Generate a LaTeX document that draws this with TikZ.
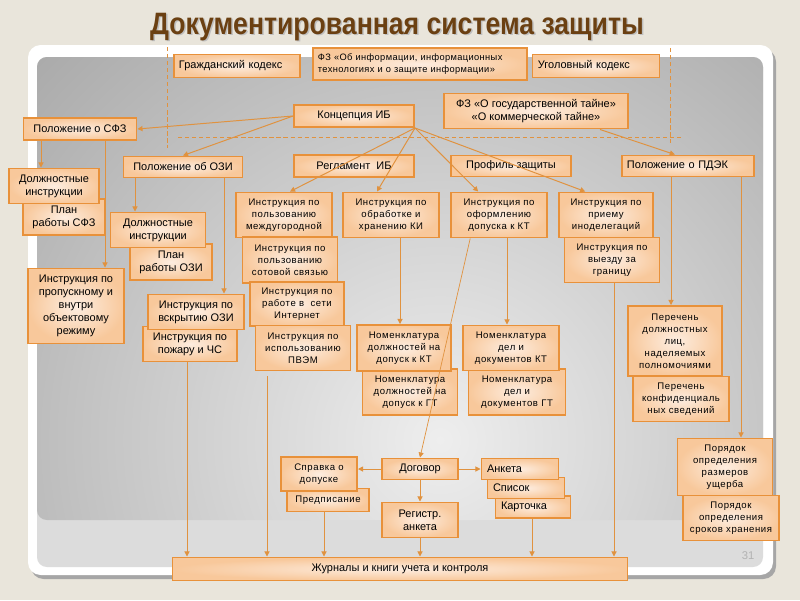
\documentclass[tikz,border=0pt]{standalone}
\usepackage{fontspec}
\setmainfont{Liberation Sans}
\usepackage{xcolor}
\usetikzlibrary{arrows.meta,positioning,calc}

\definecolor{pagebg}{HTML}{E9E5DB}
\definecolor{panelband}{HTML}{DCDCDC}
\definecolor{panelin}{HTML}{EEEEEE}
\definecolor{panelout}{HTML}{AAAAAA}
\definecolor{boxline}{HTML}{E8913A}
\definecolor{boxin}{HTML}{FDEDE0}
\definecolor{boxout}{HTML}{F8C89B}
\definecolor{lineor}{HTML}{E0923F}
\definecolor{titlecol}{HTML}{6B4012}

\begin{document}
\begin{tikzpicture}[
    x=0.025cm, y=-0.025cm,
    doc/.style={draw=boxline, line width=1.4pt, inner color=boxin, outer color=boxout,
        align=center, inner sep=2pt, font=\fontsize{7.8}{9.2}\selectfont},
    small/.style={doc, font=\fontsize{6.8}{8.6}\selectfont\addfontfeature{LetterSpace=6}},
    sz/.style 2 args={minimum width=#1*0.025cm, minimum height=#2*0.025cm},
    edge/.style={draw=lineor, line width=0.7pt, -{Triangle[length=3.6pt,width=3.6pt]}},
    guide/.style={draw=lineor, line width=0.7pt, dash pattern=on 3pt off 2pt}
]
    \useasboundingbox (0,0) rectangle (800,600);

    % slide background
    \fill[pagebg] (0,0) rectangle (800,600);
    \fill[black!35, rounded corners=9pt] (31,49) rectangle (776,579);
    \fill[white, rounded corners=9pt] (28,45) rectangle (773,575);
    \fill[panelband, rounded corners=7pt] (37,57) rectangle (763,567);
    \begin{scope}
        \clip[rounded corners=7pt] (37,57) rectangle (763,520);
        \shade[inner color=panelin, outer color=panelout] (440,440) circle (560);
    \end{scope}

    \node[text=black!25, font=\fontsize{22}{24}\selectfont\bfseries\addfontfeature{FakeStretch=0.86}]
        at (398.5,28.5) {Документированная система защиты};
    \node[text=titlecol, font=\fontsize{22}{24}\selectfont\bfseries\addfontfeature{FakeStretch=0.86}]
        (title) at (397,27) {Документированная система защиты};
    \node[font=\fontsize{8}{9}\selectfont, text=black!30] (pagenum) at (748,556) {31};

    % dashed frame of the laws
    \draw[guide] (167,47) -- (167,148);
    \draw[guide] (670,48) -- (670,143);
    \draw[guide] (178,137) -- (684,137);

    % laws
    \node[doc, sz={126}{23}, text width=2.9cm, align=left] (civil) at (237,66) {Гражданский кодекс};
    \node[small, sz={214}{32}, text width=5.1cm, align=left,
        font=\fontsize{6.6}{8.4}\selectfont\addfontfeature{LetterSpace=4}] (fzinfo) at (420,64)
        {ФЗ «Об информации, информационных\\технологиях и о защите информации»};
    \node[doc, sz={127}{23}, text width=2.9cm, align=left] (criminal) at (596,66) {Уголовный кодекс};

    % top level
    \node[doc, sz={120}{22}] (concept) at (354,116) {Концепция ИБ};
    \node[doc, sz={184}{35}] (fzsecret) at (536,111) {ФЗ «О государственной тайне»\\«О коммерческой тайне»};
    \node[doc, sz={113}{22}] (possfz) at (80,129) {Положение о СФЗ};
    \node[doc, sz={119}{21}] (posozi) at (183,167) {Положение об ОЗИ};
    \node[doc, sz={120}{22}] (reglament) at (354,166) {Регламент\ \ ИБ};
    \node[doc, sz={120}{21}] (profile) at (511,166) {Профиль защиты};
    \node[doc, sz={132}{21}, text width=3.05cm, align=left] (pospdek) at (688,166) {Положение о ПДЭК};

    % СФЗ
    \node[doc, sz={82}{36}] (plansfz) at (64,217) {План\\работы СФЗ};
    \node[doc, sz={90}{35}] (dolsfz) at (54,186) {Должностные\\инструкции};
    \node[doc, sz={96}{75}] (propusk) at (76,306) {Инструкция по\\пропускному и\\внутри\\объектовому\\режиму};

    % ОЗИ
    \node[doc, sz={82}{36}] (planozi) at (171,262) {План\\работы ОЗИ};
    \node[doc, sz={95}{35}] (dolozi) at (158,230) {Должностные\\инструкции};
    \node[doc, sz={94}{35}] (pozhar) at (190,344) {Инструкция по\\пожару и ЧС};
    \node[doc, sz={96}{35}] (vskr) at (196,312) {Инструкция по\\вскрытию ОЗИ};

    % Регламент ИБ
    \node[small, sz={96}{45}] (mezhd) at (284,215) {Инструкция по\\пользованию\\междугородной};
    \node[small, sz={95}{46}] (sotov) at (290,260) {Инструкция по\\пользованию\\сотовой связью};
    \node[small, sz={94}{44}] (internet) at (297,304) {Инструкция по\\работе в\ \ сети\\Интернет};
    \node[small, sz={95}{45}] (pvem) at (303,348) {Инструкция по\\использованию\\ПВЭМ};

    \node[small, sz={96}{45}] (obrab) at (391,215) {Инструкция по\\обработке и\\хранению КИ};
    \node[small, sz={95}{46}] (nomdgt) at (410,392) {Номенклатура\\должностей на\\допуск к ГТ};
    \node[small, sz={94}{46}] (nomdkt) at (404,348) {Номенклатура\\должностей на\\допуск к КТ};

    % Профиль защиты
    \node[small, sz={96}{45}] (oform) at (499,215) {Инструкция по\\оформлению\\допуска к КТ};
    \node[small, sz={97}{46}] (nomgt) at (517,392) {Номенклатура\\дел и\\документов ГТ};
    \node[small, sz={96}{45}] (nomkt) at (511,348) {Номенклатура\\дел и\\документов КТ};

    \node[small, sz={95}{45}] (vyezd) at (612,260) {Инструкция по\\выезду за\\границу};
    \node[small, sz={94}{45}] (priem) at (606,215) {Инструкция по\\приему\\иноделегаций};

    % ПДЭК
    \node[small, sz={96}{45}] (perconf) at (681,399) {Перечень\\конфиденциаль\\ных сведений};
    \node[small, sz={94}{70}] (perlic) at (675,341) {Перечень\\должностных\\лиц,\\наделяемых\\полномочиями};
    \node[small, sz={96}{45}] (sroki) at (731,518) {Порядок\\определения\\сроков хранения};
    \node[small, sz={95}{57}] (uscherb) at (725,467) {Порядок\\определения\\размеров\\ущерба};

    % допуск
    \node[doc, sz={76}{21}] (dogovor) at (420,469) {Договор};
    \node[small, sz={82}{23}] (predp) at (328,500) {Предписание};
    \node[small, sz={76}{34}] (spravka) at (319,474) {Справка о\\допуске};
    \node[doc, sz={75}{22}, text width=1.6cm, align=left] (kartochka) at (533,507) {Карточка};
    \node[doc, sz={77}{21}, text width=1.65cm, align=left] (spisok) at (526,488) {Список};
    \node[doc, sz={77}{21}, text width=1.65cm, align=left] (anketa) at (520,469) {Анкета};
    \node[doc, sz={76}{35}] (registr) at (420,520) {Регистр.\\анкета};

    \node[doc, sz={455}{23}] (journal) at (400,569) {Журналы и книги учета и контроля};

    % x positions of the vertical connectors
    \foreach \n/\x in {sfzdol/41, sfzprop/105, ozidol/135, ozivskr/224, pozharj/187,
        pvemj/267, obrabj/400, oformj/507, vyezdj/614, pdekper/671, pdekpor/741,
        predpj/324, registrj/420, kartj/532}
        \coordinate (\n) at (\x,0);

    % from the concept
    \draw[edge] (concept.west) -- (possfz.east);
    \draw[edge] (concept.west) -- (posozi.north);
    \draw[edge] (concept.south east) -- ([xshift=0.15cm]mezhd.north);
    \draw[edge] (concept.south east) -- ([xshift=-0.35cm]obrab.north);
    \draw[edge] (concept.south east) -- ([xshift=-0.52cm]oform.north);
    \draw[edge] (concept.south east) -- ([xshift=-0.52cm]priem.north);
    \draw[edge] ([xshift=1.6cm]fzsecret.south) -- ([xshift=-0.33cm]pospdek.north);

    % down the columns
    \draw[edge] (possfz.south -| sfzdol) -- (dolsfz.north -| sfzdol);
    \draw[edge] (possfz.south -| sfzprop) -- (propusk.north -| sfzprop);
    \draw[edge] (posozi.south -| ozidol) -- (dolozi.north -| ozidol);
    \draw[edge] (posozi.south -| ozivskr) -- (vskr.north -| ozivskr);
    \draw[edge] (obrab.south -| obrabj) -- (nomdkt.north -| obrabj);
    \draw[edge] (oform.south -| oformj) -- (nomkt.north -| oformj);
    \draw[edge, line width=0.5pt] ([xshift=-0.72cm]oform.south) -- (dogovor.north);
    \draw[edge] (pospdek.south -| pdekper) -- (perlic.north -| pdekper);
    \draw[edge] (pospdek.south -| pdekpor) -- (uscherb.north -| pdekpor);

    % допуск
    \draw[edge] (dogovor.west) -- (spravka.east |- dogovor.west);
    \draw[edge] (dogovor.east) -- (anketa.west);
    \draw[edge] (dogovor.south) -- (registr.north);

    % into the journals
    \draw[edge] (pozhar.south -| pozharj) -- (journal.north -| pozharj);
    \draw[edge] ([yshift=-0.12cm]pvem.south -| pvemj) -- (journal.north -| pvemj);
    \draw[edge] (predp.south -| predpj) -- (journal.north -| predpj);
    \draw[edge] (registr.south -| registrj) -- (journal.north -| registrj);
    \draw[edge] (kartochka.south -| kartj) -- (journal.north -| kartj);
    \draw[edge] (vyezd.south -| vyezdj) -- (journal.north -| vyezdj);
\end{tikzpicture}
\end{document}
